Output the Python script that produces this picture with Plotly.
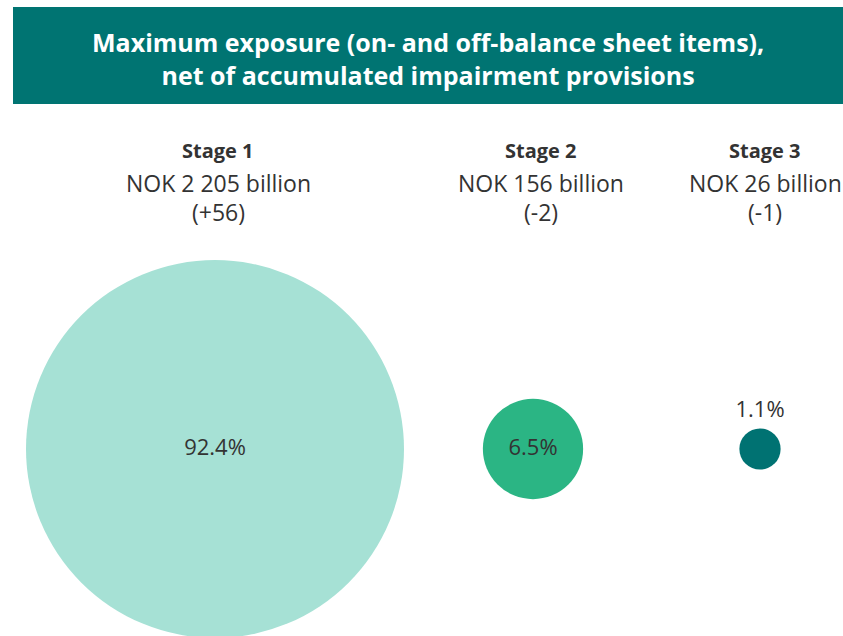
import plotly.graph_objects as go

# ---- data ----
stages = ["Stage 1", "Stage 2", "Stage 3"]
exposure_labels = ["NOK 2 205 billion", "NOK 156 billion", "NOK 26 billion"]
changes = ["(+56)", "(-2)", "(-1)"]
shares = [92.4, 6.5, 1.1]
share_labels = ["92.4%", "6.5%", "1.1%"]
title_text = "Maximum exposure (on- and off-balance sheet items),<br>net of accumulated impairment provisions"

# ---- layout constants (pixels) ----
W, H = 843, 636
circle_x = [215, 533, 760]
label_x = [218, 541, 765]
circle_y = 449
max_diam = 378
colors = ["#A6E1D5", "#2BB584", "#007272"]
text_pos = ["middle center", "middle center", "top center"]
font_family = "Open Sans, Noto Sans, sans-serif"
txt_color = "#333333"

fig = go.Figure()
fig.add_trace(go.Scatter(
    x=circle_x, y=[circle_y] * 3,
    mode="markers+text",
    marker=dict(size=shares, sizemode="area",
                sizeref=2 * max(shares) / max_diam ** 2,
                color=colors, line=dict(width=0), opacity=1),
    text=share_labels, textposition=text_pos,
    textfont=dict(family=font_family, size=22, color=txt_color),
    cliponaxis=False, hoverinfo="skip", showlegend=False,
))

# banner
fig.add_shape(type="rect", xref="x", yref="y", x0=13, x1=W, y0=7, y1=104,
              fillcolor="#007472", line=dict(width=0), layer="below")
fig.add_annotation(x=(13 + W) / 2, y=58, xref="x", yref="y", text="<b>" + title_text + "</b>",
                   showarrow=False, font=dict(family=font_family, size=25, color="white"),
                   align="center")

for i in range(3):
    fig.add_annotation(x=label_x[i], y=150, xref="x", yref="y",
                       text="<b>" + stages[i] + "</b>", showarrow=False,
                       font=dict(family=font_family, size=20, color=txt_color))
    fig.add_annotation(x=label_x[i], y=183, xref="x", yref="y",
                       text=exposure_labels[i], showarrow=False,
                       font=dict(family=font_family, size=23, color=txt_color))
    fig.add_annotation(x=label_x[i], y=212, xref="x", yref="y",
                       text=changes[i], showarrow=False,
                       font=dict(family=font_family, size=23, color=txt_color))

fig.update_layout(
    width=W, height=H, margin=dict(l=0, r=0, t=0, b=0),
    paper_bgcolor="white", plot_bgcolor="white",
    xaxis=dict(range=[0, W], visible=False, fixedrange=True),
    yaxis=dict(range=[H, 0], visible=False, fixedrange=True),
)
fig.write_html("out.html", config={"displayModeBar": False},
               post_script="document.body.style.margin='0';document.body.style.overflow='hidden';")
